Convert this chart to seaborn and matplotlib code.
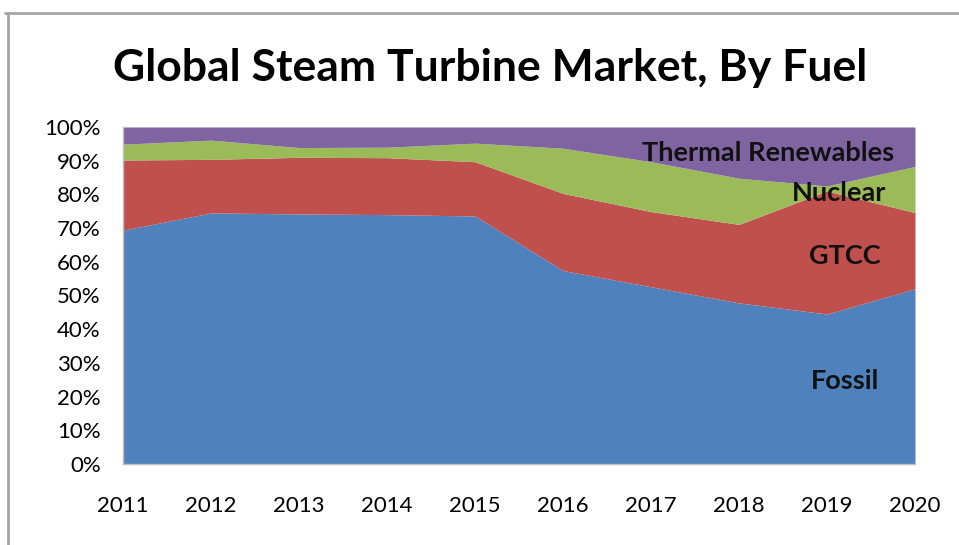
import numpy as np
import pandas as pd
import matplotlib as mpl
import matplotlib.pyplot as plt
import seaborn as sns
from matplotlib.ticker import PercentFormatter

sns.set_theme(style="white")
plt.rcParams['font.family'] = ['Lato', 'DejaVu Sans']

years = [2011, 2012, 2013, 2014, 2015, 2016, 2017, 2018, 2019, 2020]
fossil = [69.4, 74.5, 74.2, 74.0, 73.6, 57.4, 52.6, 47.8, 44.5, 52.0]
gtcc = [20.8, 15.9, 16.8, 16.9, 16.1, 22.9, 22.3, 23.3, 36.5, 22.6]
nuclear = [4.7, 5.7, 2.9, 3.1, 5.5, 13.4, 14.8, 13.7, 1.5, 13.7]
thermal = [5.1, 3.9, 6.1, 6.0, 4.8, 6.3, 10.3, 15.2, 17.5, 11.7]

fuels = ['Fossil', 'GTCC', 'Nuclear', 'Thermal Renewables']
colors = ['#4F81BD', '#C0504D', '#9BBB59', '#8064A2']

df = pd.DataFrame({'Fossil': fossil, 'GTCC': gtcc, 'Nuclear': nuclear,
                   'Thermal Renewables': thermal}, index=years)

fig = plt.figure(figsize=(9.59, 5.45), dpi=100)
ax = fig.add_axes([0.1283, 0.1486, 0.8258, 0.6184])

ax.stackplot(df.index, *[df[f] for f in fuels], colors=colors, linewidth=0)

ax.set_xlim(2011, 2020)
ax.set_ylim(0, 100)
ax.set_xticks(years)
ax.set_yticks(range(0, 101, 10))
ax.yaxis.set_major_formatter(PercentFormatter(decimals=0))
ax.tick_params(axis='x', length=0, pad=23, labelsize=16, labelcolor='black')
ax.tick_params(axis='y', length=0, pad=16, labelsize=16, labelcolor='black')
ax.grid(False)
for side in ['top', 'right']:
    ax.spines[side].set_visible(False)
for side in ['left', 'bottom']:
    ax.spines[side].set_color('#BFBFBF')
    ax.spines[side].set_linewidth(1)

# series labels inside the areas
lab = dict(fontsize=19.5, fontweight='bold', color='#111111', ha='center', va='center')
ax.text(2018.33, 92.3, 'Thermal Renewables', **lab)
ax.text(2019.14, 80.4, 'Nuclear', **lab)
ax.text(2019.2, 61.7, 'GTCC', **lab)
ax.text(2019.2, 24.6, 'Fossil', **lab)

fig.suptitle('Global Steam Turbine Market, By Fuel', x=0.511, y=0.875,
             fontsize=32, fontweight='bold', color='black', va='center')

# outer chart frame
fig.add_artist(plt.Line2D([0.005, 1.0], [0.976, 0.976], color='#A6A6A6', lw=2))
fig.add_artist(plt.Line2D([0.0085, 0.0085], [0.0, 0.976], color='#A6A6A6', lw=2))

fig.savefig('out.png', dpi=100)
